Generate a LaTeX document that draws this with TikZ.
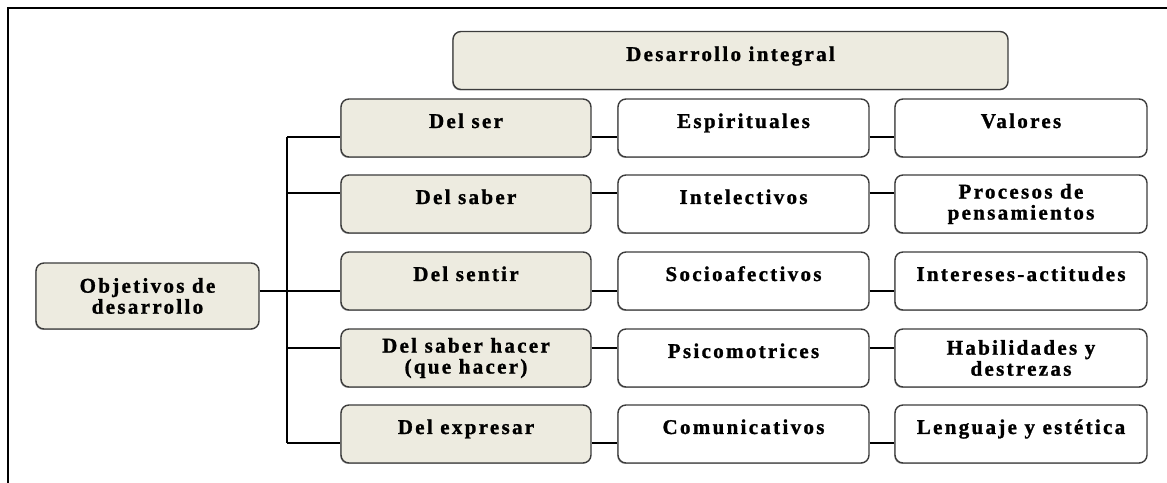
\documentclass[tikz,border=0pt]{standalone}
\usepackage{fontspec}
\setmainfont{Liberation Serif}
\newfontfamily\boxfont[LetterSpace=11,FakeBold=1.2,UprightFont={* Bold}]{Liberation Serif}
\usetikzlibrary{shadows}
\definecolor{boxfill}{RGB}{237,235,224}
\definecolor{boxline}{RGB}{60,60,60}
\tikzset{
  cell/.style={draw=boxline, line width=1.4bp, rounded corners=8bp, inner sep=0pt,
    minimum height=58bp, align=center,
    font=\boxfont\fontsize{21bp}{21bp}\selectfont,
    drop shadow={shadow xshift=-0.8bp, shadow yshift=-1bp, fill=black, opacity=0.3}},
  beigebox/.style={cell, fill=boxfill},
  whitebox/.style={cell, fill=white},
  oneline/.style={text height=29bp, text depth=29bp},
  link/.style={draw=black, line width=1.3bp},
}
\begin{document}
\begin{tikzpicture}
  \useasboundingbox (0bp,0bp) rectangle (1167bp,483bp);
  % Frame
  \draw[line width=1.5bp] (8bp,0bp) -- (8bp,475bp) -- (1167bp,475bp);
%%
  % Node: Desarrollo integral
  \node[beigebox, minimum width=555bp, text height=29bp, text depth=28bp] (desint) at (730.5bp,422.5bp) {Desarrollo integral};
  % Node: Objetivos de desarrollo
  \node[beigebox, minimum width=223bp, minimum height=66bp] (objdes) at (147.5bp,187bp) {Objetivos de\\desarrollo};
  % Row: Del ser
  \node[beigebox, oneline, minimum width=250bp] (ser) at (466bp,355bp) {Del ser};
  \node[whitebox, oneline, minimum width=251bp] (espi) at (743.5bp,355bp) {Espirituales};
  \node[whitebox, oneline, minimum width=252bp] (valo) at (1021bp,355bp) {Valores};
  % Row: Del saber
  \node[beigebox, oneline, minimum width=250bp] (saber) at (466bp,279bp) {Del saber};
  \node[whitebox, oneline, minimum width=251bp] (intel) at (743.5bp,279bp) {Intelectivos};
  \node[whitebox, minimum width=252bp] (proc) at (1021bp,279bp) {Procesos de\\pensamientos};
  % Row: Del sentir
  \node[beigebox, oneline, minimum width=250bp] (sentir) at (466bp,202bp) {Del sentir};
  \node[whitebox, oneline, minimum width=251bp] (socio) at (743.5bp,202bp) {Socioafectivos};
  \node[whitebox, oneline, minimum width=252bp] (inter) at (1021bp,202bp) {Intereses-actitudes};
  % Row: Del saber hacer
  \node[beigebox, minimum width=250bp] (hacer) at (466bp,125bp) {Del saber hacer\\(que hacer)};
  \node[whitebox, oneline, minimum width=251bp] (psico) at (743.5bp,125bp) {Psicomotrices};
  \node[whitebox, minimum width=252bp] (habil) at (1021bp,125bp) {Habilidades y\\destrezas};
  % Row: Del expresar
  \node[beigebox, oneline, minimum width=250bp] (expr) at (466bp,49bp) {Del expresar};
  \node[whitebox, oneline, minimum width=251bp] (comu) at (743.5bp,49bp) {Comunicativos};
  \node[whitebox, oneline, minimum width=252bp] (leng) at (1021bp,49bp) {Lenguaje y estética};
%%
  % Joints on the trunk
  \coordinate (j1) at (287bp,346bp);
  \coordinate (j2) at (287bp,290bp);
  \coordinate (j3) at (287bp,192bp);
  \coordinate (j4) at (287bp,135bp);
  \coordinate (j5) at (287bp,40bp);
  % Edge: trunk
  \draw[link] (j1) -- (j5);
  \draw[link] (objdes.east |- j3) -- (j3);
  % Edge: trunk -> Del ...
  \draw[link] (j1) -- (j1 -| ser.west);
  \draw[link] (j2) -- (j2 -| saber.west);
  \draw[link] (j3) -- (j3 -| sentir.west);
  \draw[link] (j4) -- (j4 -| hacer.west);
  \draw[link] (j5) -- (j5 -| expr.west);
  % Edge: Del ... -> middle column
  \draw[link] (j1 -| ser.east) -- (j1 -| espi.west);
  \draw[link] (j2 -| saber.east) -- (j2 -| intel.west);
  \draw[link] (j3 -| sentir.east) -- (j3 -| socio.west);
  \draw[link] (j4 -| hacer.east) -- (j4 -| psico.west);
  \draw[link] (j5 -| expr.east) -- (j5 -| comu.west);
  % Edge: middle column -> right column
  \draw[link] (j1 -| espi.east) -- (j1 -| valo.west);
  \draw[link] (j2 -| intel.east) -- (j2 -| proc.west);
  \draw[link] (j3 -| socio.east) -- (j3 -| inter.west);
  \draw[link] (j4 -| psico.east) -- (j4 -| habil.west);
  \draw[link] (j5 -| comu.east) -- (j5 -| leng.west);
%
\end{tikzpicture}
\end{document}
